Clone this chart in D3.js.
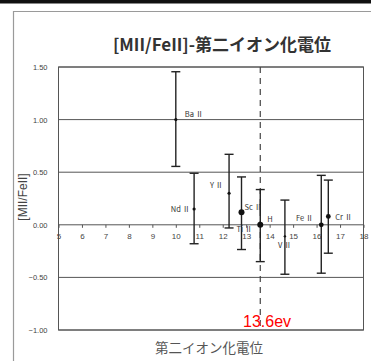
<!DOCTYPE html>
<html>
<head>
<meta charset="utf-8">
<script src="https://cdn.jsdelivr.net/npm/d3@7"></script>
<style>
  body { margin: 0; background: #fff; }
  svg { display: block; }
</style>
</head>
<body>
<div id="chart"></div>
<script>
// Data
const ions = ["Ba Ⅱ", "Nd Ⅱ", "Y Ⅱ", "Sc Ⅱ", "Ti Ⅱ", "H", "V Ⅱ", "Fe Ⅱ", "Cr Ⅱ"];
const ionPotential = [10.0, 10.78, 12.27, 12.8, 13.6, 13.6, 14.65, 16.2, 16.5];
const ratio = [1.00, 0.15, 0.30, 0.12, -0.01, 0.0, -0.11, 0.0, 0.08];
const errLow = [0.555, -0.18, -0.03, -0.235, -0.35, null, -0.47, -0.46, -0.27];
const errHigh = [1.455, 0.49, 0.67, 0.455, 0.335, null, 0.235, 0.47, 0.425];
const xTicks = [5, 6, 7, 8, 9, 10, 11, 12, 13, 14, 15, 16, 17, 18];
const yTicks = [1.5, 1.0, 0.5, 0.0, -0.5, -1.0];
const hydrogenLimit = 13.6;

// label placement (dx, dy, anchor) and dot radius per ion
const labelPos = [
  [9, -3, "start"], [-4, 3, "end"], [-6, -5, "end"], [3, -2, "start"], [-8, 6, "end"],
  [7, -3, "start"], [-7, 12, "start"], [-8, -4, "end"], [7, 4, "start"]
];
const dotR = [1.6, 1.6, 1.6, 3, 1.2, 3, 1.2, 2.4, 2.4];

const W = 371, H = 361;
const svg = d3.select("#chart").append("svg")
    .attr("width", W)
    .attr("height", H);

// page frame
svg.append("rect").attr("x", 0).attr("y", 0).attr("width", W).attr("height", 3.5).attr("fill", "#111");
svg.append("path")
    .attr("d", "M13.5,361 V11.5 H371")
    .attr("fill", "none")
    .attr("stroke", "#9a9a9a")
    .attr("stroke-width", 1.2);

const x = d3.scaleLinear().domain([5, 18]).range([58.5, 363.5]);
const y = d3.scaleLinear().domain([-1, 1.5]).range([330, 67]);

// title
svg.append("text")
    .attr("x", 222).attr("y", 51)
    .attr("text-anchor", "middle")
    .attr("font-family", "'Noto Sans CJK JP', 'Noto Sans', sans-serif")
    .attr("font-size", 17)
    .attr("font-weight", "bold")
    .attr("fill", "#333")
    .text("[MII/FeII]-第二イオン化電位");

// grid lines
svg.append("g").selectAll("line")
  .data(yTicks)
  .enter().append("line")
    .attr("x1", x(5)).attr("x2", x(18))
    .attr("y1", d => y(d)).attr("y2", d => y(d))
    .attr("stroke", "#555")
    .attr("stroke-width", 1);

svg.append("rect")
    .attr("x", x(5)).attr("y", y(1.5))
    .attr("width", x(18) - x(5)).attr("height", y(-1) - y(1.5))
    .attr("fill", "none")
    .attr("stroke", "#555")
    .attr("stroke-width", 1);

// y axis
const yAxis = svg.append("g")
    .attr("transform", "translate(" + x(5) + ",0)")
    .call(d3.axisLeft(y).tickValues(yTicks).tickFormat(d3.format(".2f")).tickSize(0).tickPadding(11));
yAxis.select(".domain").remove();
yAxis.selectAll("text")
    .attr("font-family", "'Liberation Sans', Arial, sans-serif")
    .attr("font-size", 7.5)
    .attr("fill", "#444");

// x axis along the zero line
const xAxis = svg.append("g")
    .attr("transform", "translate(0," + y(0) + ")")
    .call(d3.axisBottom(x).tickValues(xTicks).tickFormat(d3.format("d")).tickSize(3).tickPadding(6));
xAxis.select(".domain").remove();
xAxis.selectAll("line").attr("stroke", "#555");
xAxis.selectAll("text")
    .attr("font-family", "'Liberation Sans', Arial, sans-serif")
    .attr("font-size", 8)
    .attr("fill", "#444");

// 13.6 eV dashed line
svg.append("line")
    .attr("x1", x(hydrogenLimit)).attr("x2", x(hydrogenLimit))
    .attr("y1", y(1.5)).attr("y2", y(-1))
    .attr("stroke", "#444")
    .attr("stroke-width", 1.2)
    .attr("stroke-dasharray", "6,5");

// error bars
const bars = ions.map((name, i) => ({ i: i, x: ionPotential[i], lo: errLow[i], hi: errHigh[i] }))
    .filter(d => d.lo !== null);

const eb = svg.append("g").attr("stroke", "#222").attr("stroke-width", 1.4);
eb.selectAll(".stem").data(bars).enter().append("line")
    .attr("x1", d => x(d.x)).attr("x2", d => x(d.x))
    .attr("y1", d => y(d.hi)).attr("y2", d => y(d.lo));
eb.selectAll(".capHi").data(bars).enter().append("line")
    .attr("x1", d => x(d.x) - 4.5).attr("x2", d => x(d.x) + 4.5)
    .attr("y1", d => y(d.hi)).attr("y2", d => y(d.hi));
eb.selectAll(".capLo").data(bars).enter().append("line")
    .attr("x1", d => x(d.x) - 4.5).attr("x2", d => x(d.x) + 4.5)
    .attr("y1", d => y(d.lo)).attr("y2", d => y(d.lo));

// points
svg.append("g").selectAll("circle")
  .data(ions)
  .enter().append("circle")
    .attr("cx", (d, i) => x(ionPotential[i]))
    .attr("cy", (d, i) => y(ratio[i]))
    .attr("r", (d, i) => dotR[i])
    .attr("fill", "#111");

// point labels
svg.append("g").selectAll("text")
  .data(ions)
  .enter().append("text")
    .attr("x", (d, i) => x(ionPotential[i]) + labelPos[i][0])
    .attr("y", (d, i) => y(ratio[i]) + labelPos[i][1])
    .attr("text-anchor", (d, i) => labelPos[i][2])
    .attr("font-family", "'Noto Sans CJK JP', sans-serif")
    .attr("font-size", 7.5)
    .attr("fill", "#333")
    .text(d => d);

// axis titles
svg.append("text")
    .attr("transform", "translate(27," + 197 + ") rotate(-90)")
    .attr("text-anchor", "middle")
    .attr("font-family", "'Liberation Sans', Arial, sans-serif")
    .attr("font-size", 12)
    .attr("fill", "#444")
    .text("[MII/FeII]");

svg.append("text")
    .attr("x", 209).attr("y", 353)
    .attr("text-anchor", "middle")
    .attr("font-family", "'Noto Sans CJK JP', sans-serif")
    .attr("font-size", 13.5)
    .attr("fill", "#555")
    .text("第二イオン化電位");

// red annotation
svg.append("text")
    .attr("x", 243).attr("y", 327)
    .attr("font-family", "'Liberation Sans', Arial, sans-serif")
    .attr("font-size", 16)
    .attr("fill", "#ff0000")
    .text("13.6ev");
</script>
</body>
</html>
